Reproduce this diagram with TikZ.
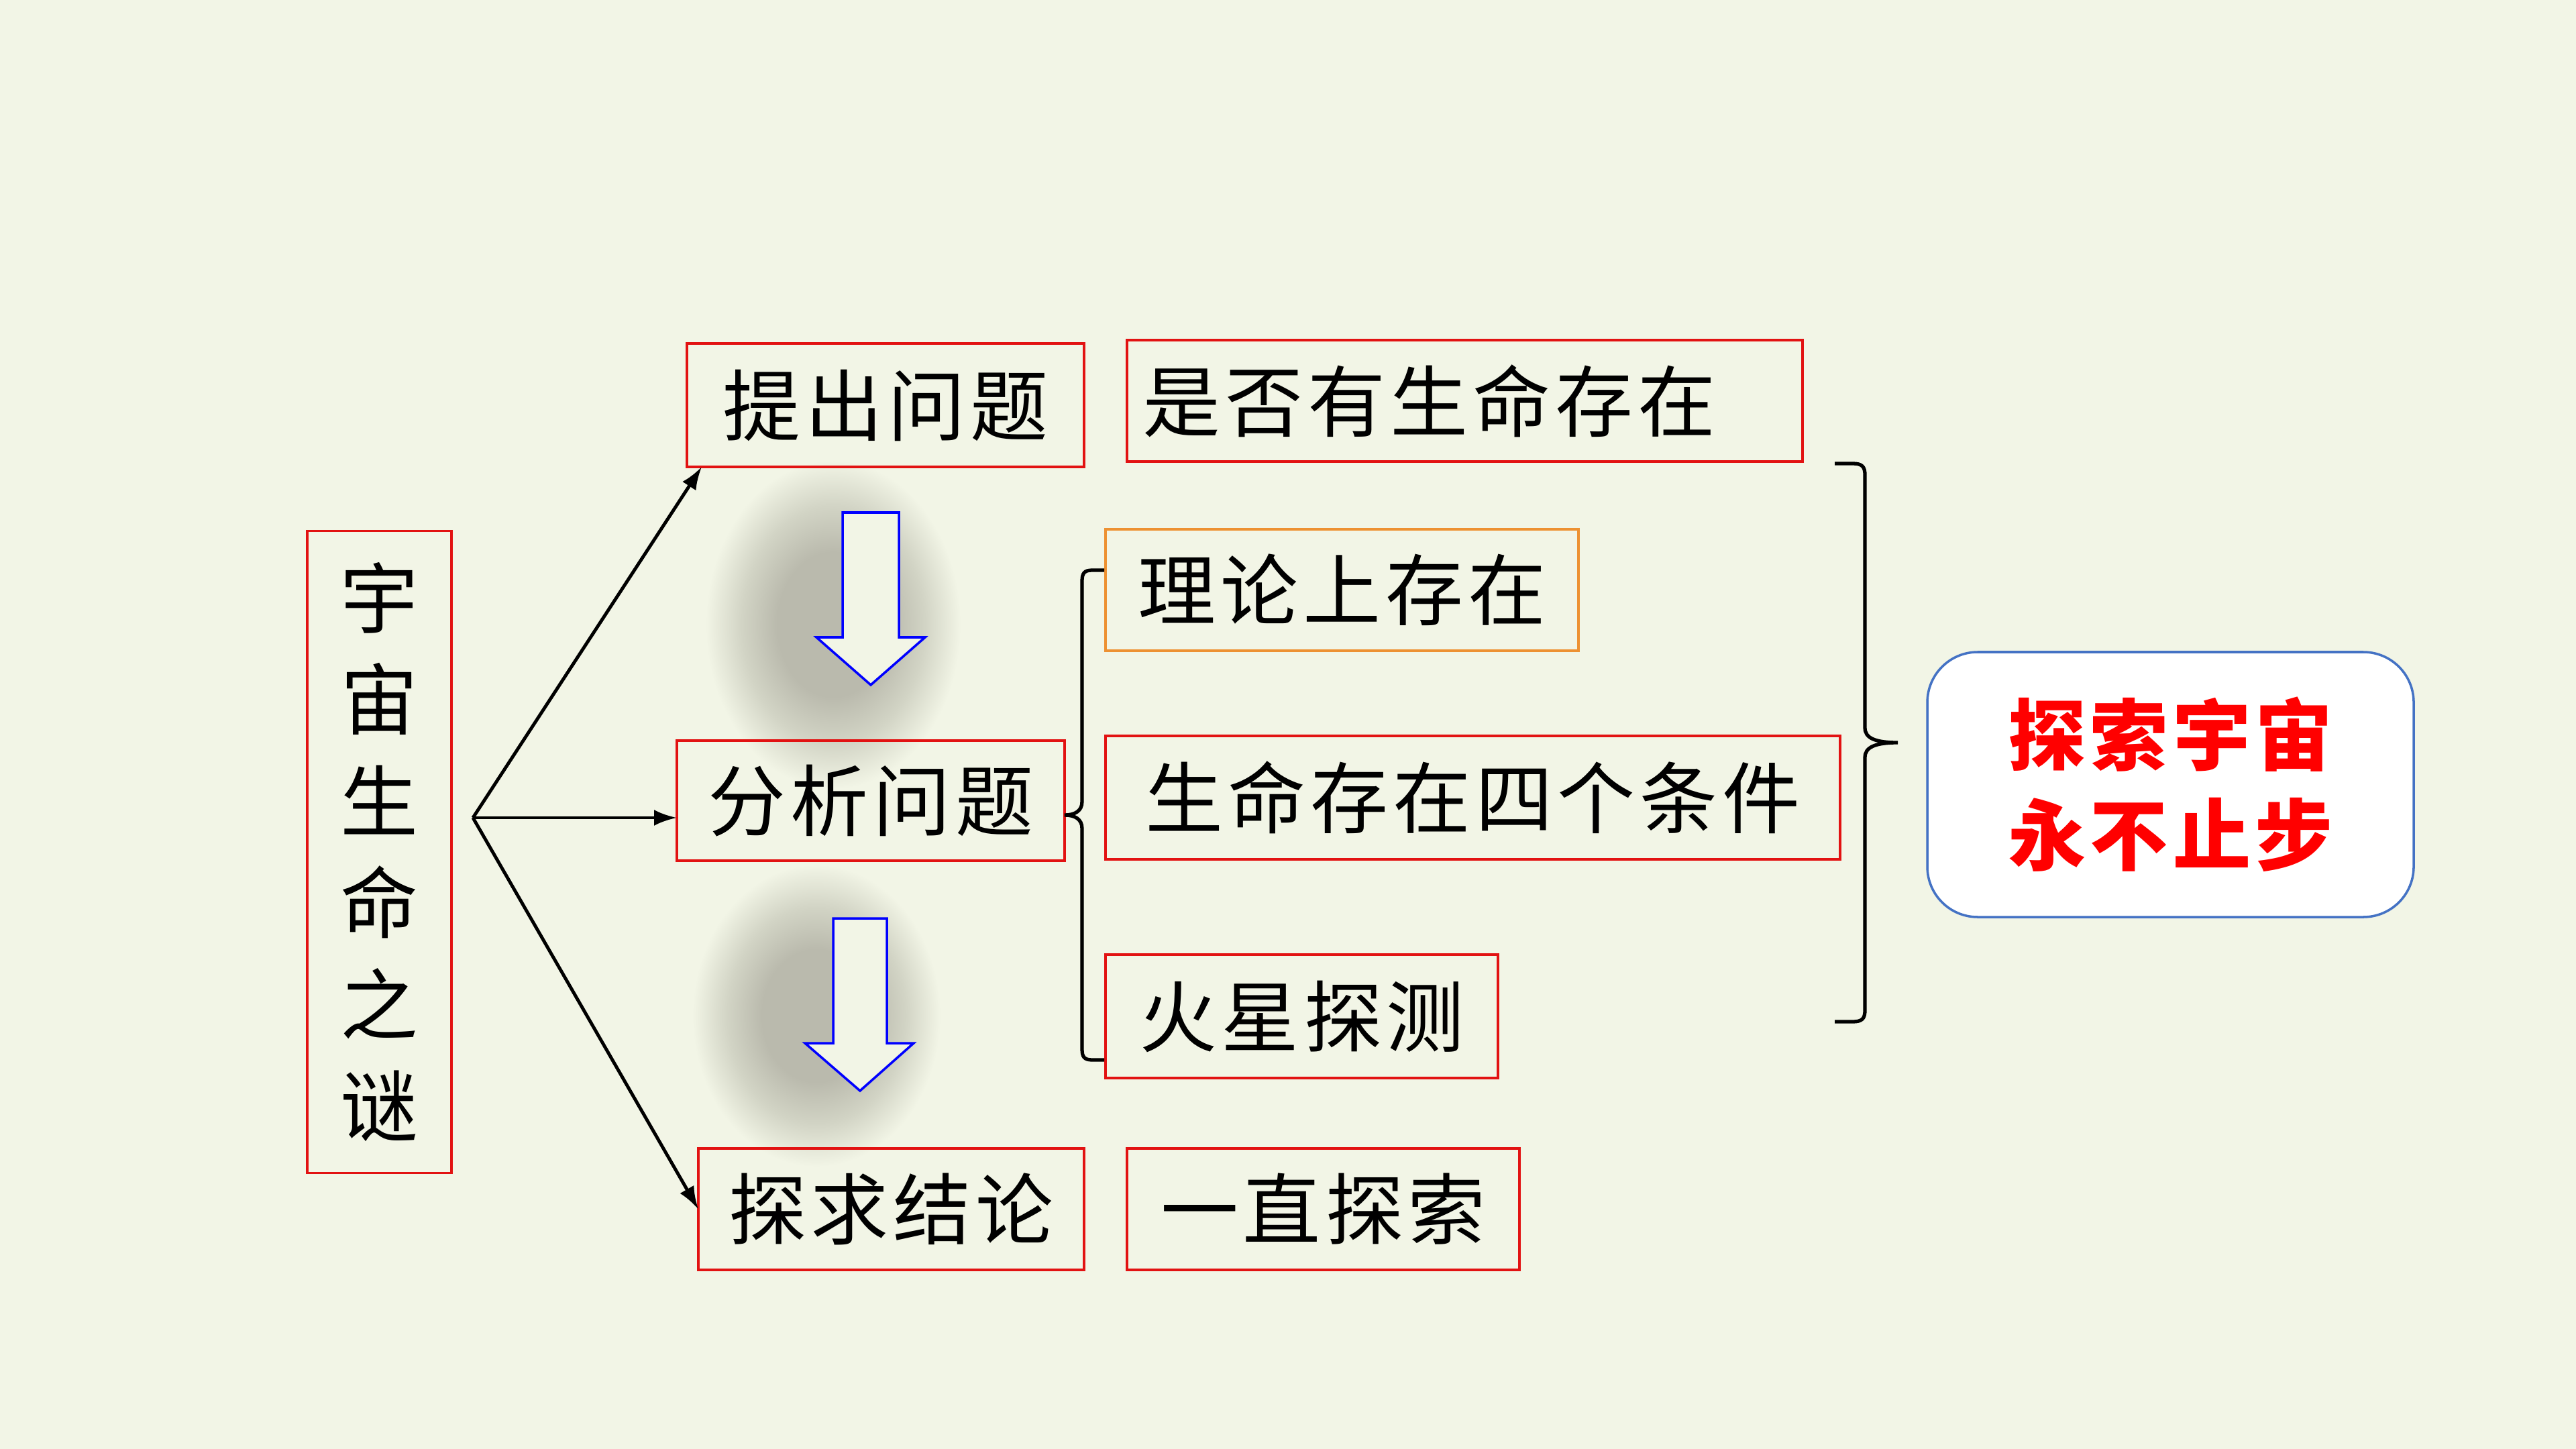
\documentclass[tikz,border=0pt]{standalone}
\usepackage{fontspec}
\usetikzlibrary{arrows.meta}
\newfontfamily\cjk{Noto Sans CJK SC}[LetterSpace=6]
\definecolor{bgc}{RGB}{242,245,230}
\definecolor{boxred}{RGB}{226,18,18}
\definecolor{boxorange}{RGB}{237,145,50}
\definecolor{resblue}{RGB}{68,114,196}
\definecolor{shd}{RGB}{186,186,173}
\definecolor{shdb}{RGB}{210,212,197}
\pgfdeclareradialshading{blob}{\pgfpoint{0bp}{0bp}}{color(0bp)=(shd); color(11bp)=(shd); color(18bp)=(shdb); color(25bp)=(bgc); color(50bp)=(bgc)}
\tikzset{
  lbl/.style={draw=boxred, line width=1pt, inner sep=0pt, outer sep=0pt, font=\cjk\fontsize{33pt}{40pt}\selectfont, text=black},
  conn/.style={line width=1.4pt, -{Latex[length=0.34cm,width=0.24cm]}},
  brk/.style={line width=1.5pt, black},
  bluearrow/.style={draw=blue, line width=1pt, fill=bgc, line join=miter},
}
\begin{document}
\begin{tikzpicture}
\path[fill=bgc] (0,0) rectangle (38.4,-21.6);
\useasboundingbox (0,0) rectangle (38.4,-21.6);
% shadows
\shade[shading=blob] (12.42,-9.31) ellipse (1.90cm and 2.45cm);
\shade[shading=blob] (12.17,-15.14) ellipse (1.85cm and 2.25cm);
% blue arrows
\coordinate (ba1) at (12.98,-7.64);
\draw[bluearrow] (ba1) ++(-0.42,0) -- ++(0.84,0) -- ++(0,-1.86) -- ++(0.39,0) -- (12.98,-10.21) -- (12.17,-9.50) -- (12.56,-9.50) -- cycle;
\coordinate (ba2) at (12.82,-13.69);
\draw[bluearrow] (ba2) ++(-0.40,0) -- ++(0.80,0) -- ++(0,-1.86) -- ++(0.40,0) -- (12.82,-16.26) -- (12.00,-15.55) -- (12.42,-15.55) -- cycle;
% boxes
\node[lbl, minimum width=2.15cm, minimum height=9.57cm, align=center, font=\cjk\fontsize{33pt}{43.1pt}\selectfont] (title) at (5.655,-12.70) {宇\\宙\\生\\命\\之\\谜};
\node[lbl, minimum width=5.92cm, minimum height=1.84cm] (q1) at (13.20,-6.04) {提出问题};
\node[lbl, minimum width=10.07cm, minimum height=1.81cm, text width=9.6cm, align=left] (a1) at (21.835,-5.975) {是否有生命存在};
\node[lbl, draw=boxorange, minimum width=7.05cm, minimum height=1.81cm] (t1) at (20.005,-8.795) {理论上存在};
\node[lbl, minimum width=5.78cm, minimum height=1.79cm] (q2) at (12.98,-11.935) {分析问题};
\node[lbl, minimum width=10.95cm, minimum height=1.84cm] (t2) at (21.955,-11.89) {生命存在四个条件};
\node[lbl, minimum width=5.85cm, minimum height=1.84cm] (t3) at (19.405,-15.15) {火星探测};
\node[lbl, minimum width=5.75cm, minimum height=1.81cm] (q3) at (13.285,-18.025) {探求结论};
\node[lbl, minimum width=5.85cm, minimum height=1.81cm] (a3) at (19.725,-18.025) {一直探索};
\node[draw=resblue, line width=1pt, fill=white, rounded corners=0.75cm, minimum width=7.25cm, minimum height=3.95cm, inner sep=0pt, align=center, text=red, font=\cjk\bfseries\fontsize{33pt}{42.5pt}\selectfont] (res) at (32.355,-11.695) {探索宇宙\\永不止步};
% connectors
\coordinate (hub) at (7.05,-12.19);
\draw[conn] (hub) -- ([xshift=0.22cm]q1.south west);
\draw[conn] (hub) -- (q2.west |- hub);
\draw[conn] (hub) -- (q3.west);
% left bracket
\draw[brk] (16.46,-8.50) -- (16.28,-8.50) .. controls (16.16,-8.50) and (16.13,-8.55) .. (16.13,-8.66) -- (16.13,-11.95) .. controls (16.13,-12.09) and (16.02,-12.15) .. (q2.east |- 0,-12.15) .. controls (16.02,-12.15) and (16.13,-12.21) .. (16.13,-12.35) -- (16.13,-15.64) .. controls (16.13,-15.75) and (16.16,-15.80) .. (16.28,-15.80) -- (16.46,-15.80);
% right bracket
\draw[brk] (27.35,-6.91) -- (27.62,-6.91) .. controls (27.76,-6.91) and (27.80,-6.96) .. (27.80,-7.08) -- (27.80,-10.85) .. controls (27.80,-11.00) and (27.95,-11.07) .. (28.29,-11.07) .. controls (27.95,-11.07) and (27.80,-11.14) .. (27.80,-11.29) -- (27.80,-15.06) .. controls (27.80,-15.18) and (27.76,-15.23) .. (27.62,-15.23) -- (27.35,-15.23);
\end{tikzpicture}
\end{document}
